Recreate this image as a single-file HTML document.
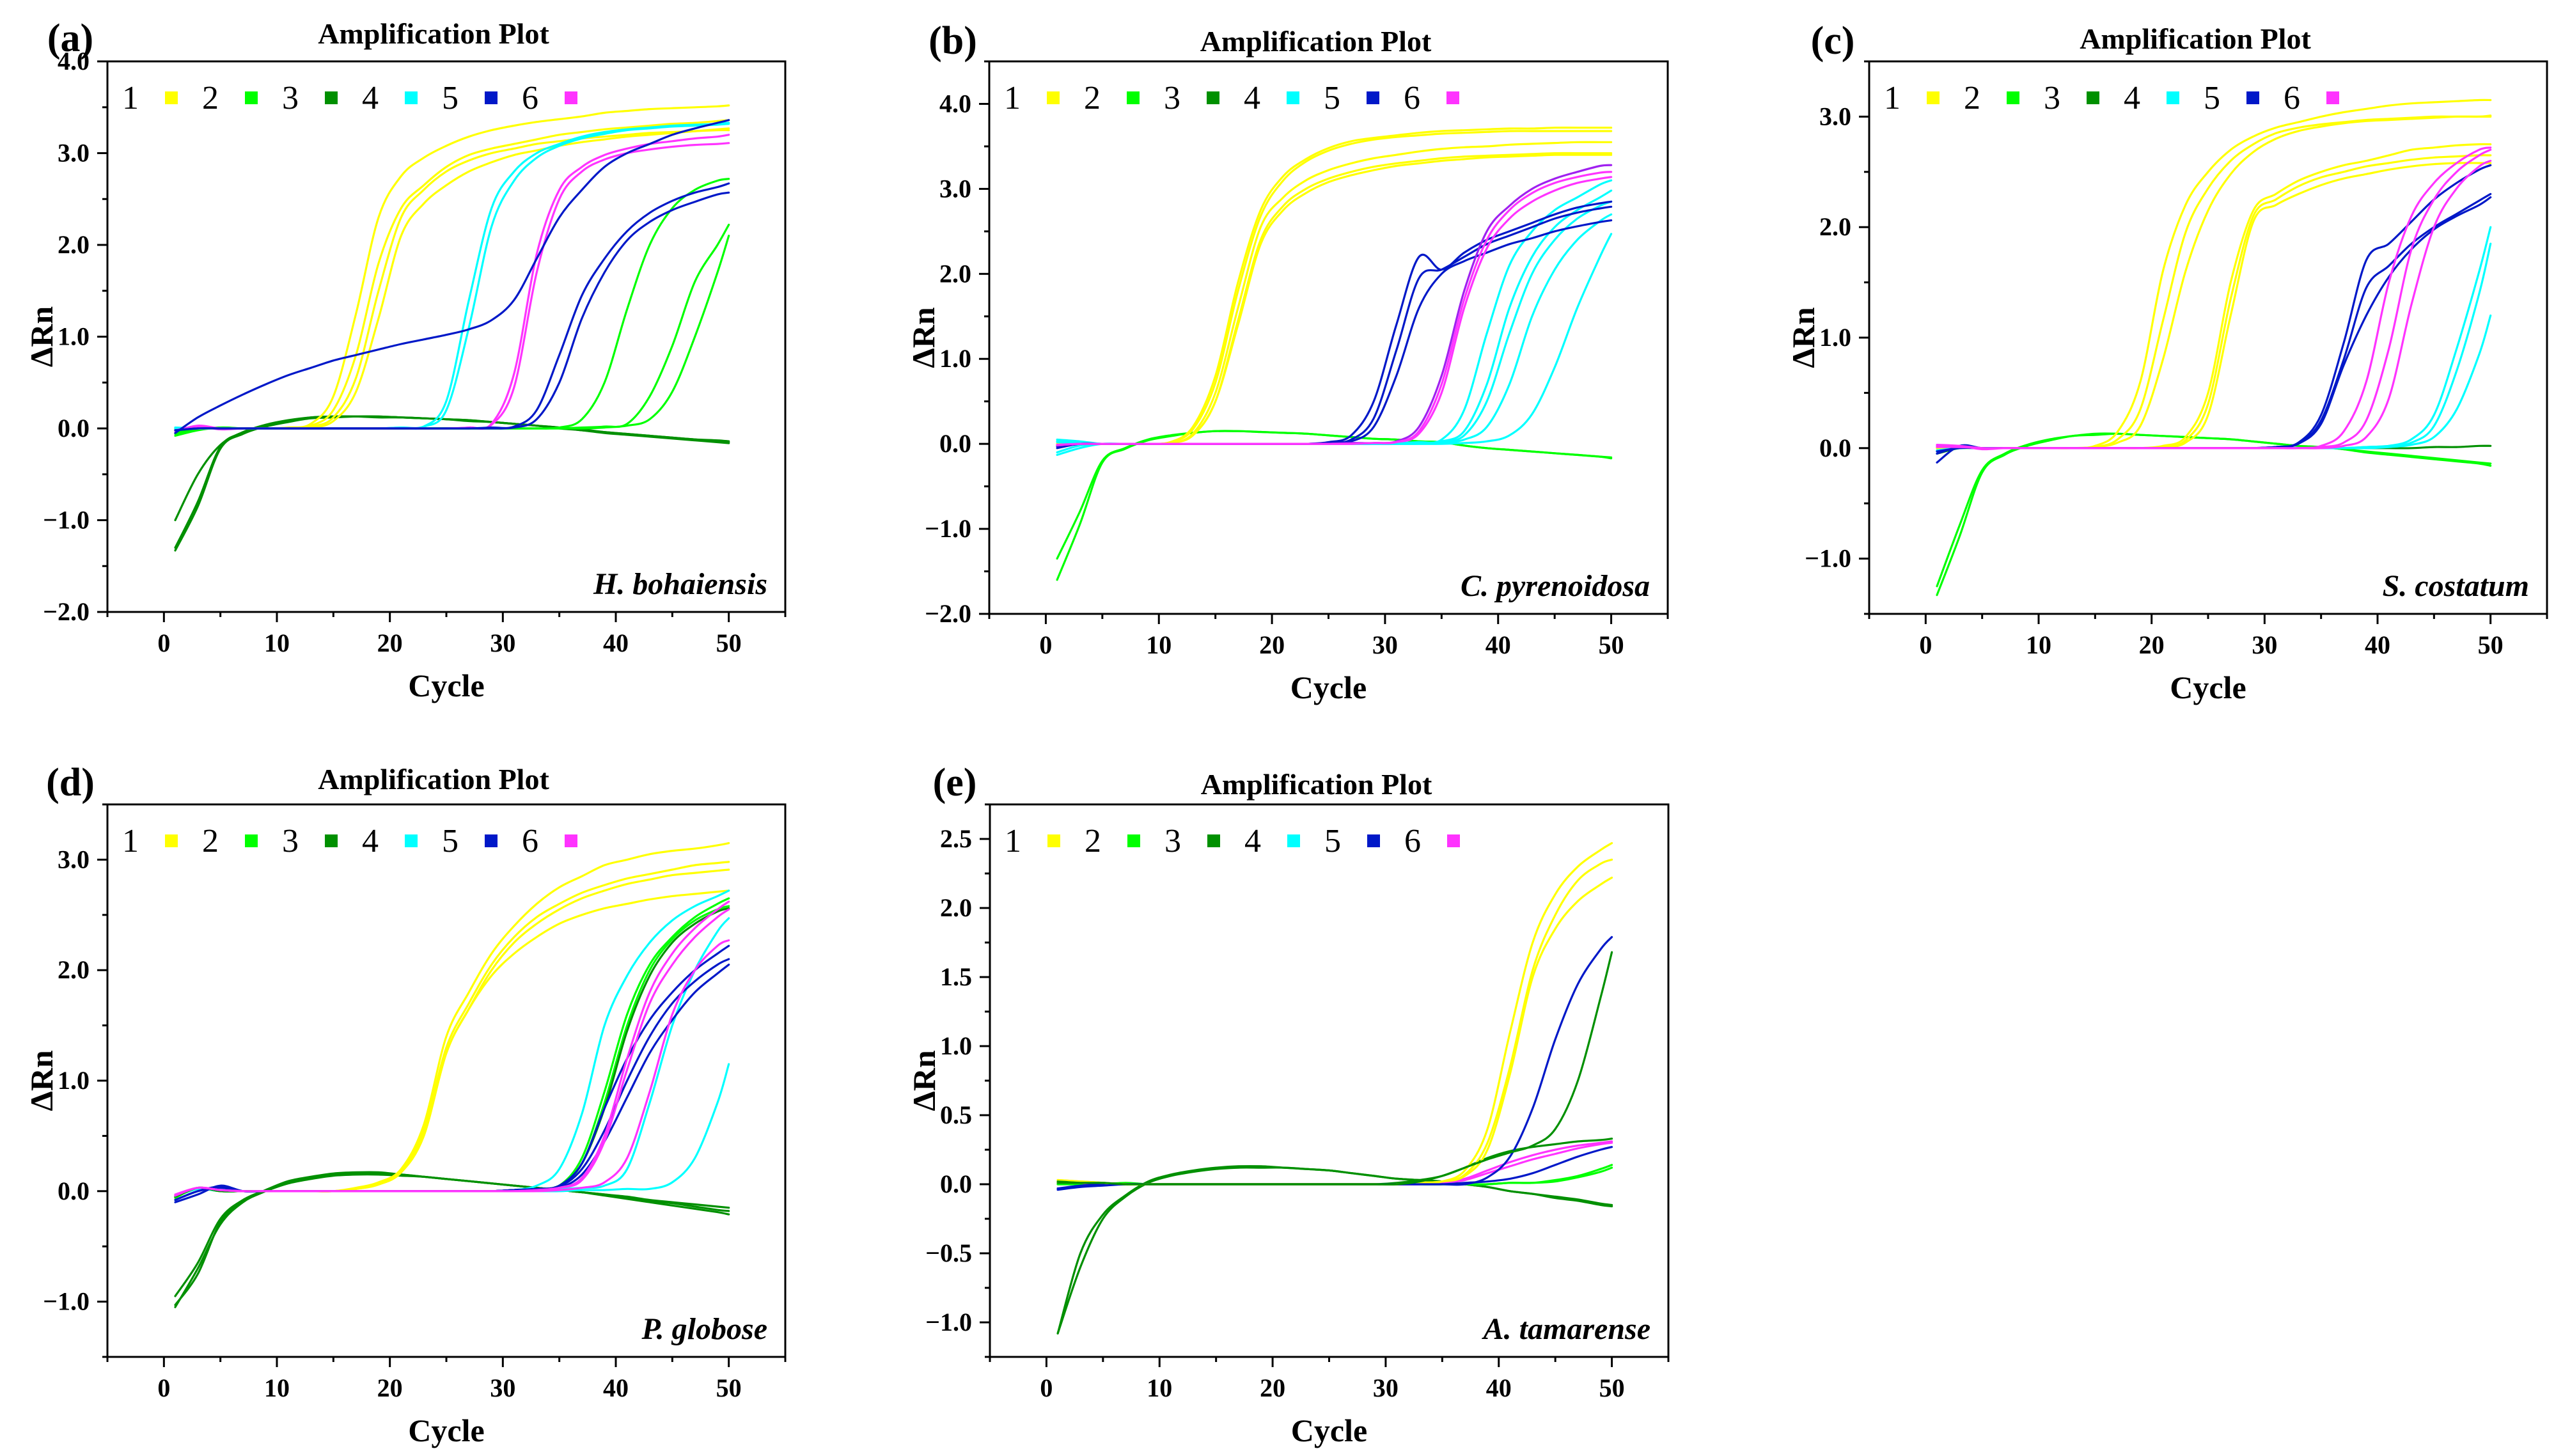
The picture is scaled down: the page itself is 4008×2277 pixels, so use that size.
<!DOCTYPE html>
<html><head><meta charset="utf-8">
<style>
html,body{margin:0;padding:0;background:#fff;}
svg{display:block;font-family:"Liberation Serif","Times New Roman",serif;}
svg text{font-family:"Liberation Serif","Times New Roman",serif;}
</style></head>
<body>
<svg id="fig" width="4008" height="2277" viewBox="0 0 4008 2277" xmlns="http://www.w3.org/2000/svg" font-family="Liberation Serif, serif"></svg>
<script>
const cycles=[1,3,5,7,9,11,13,15,17,19,21,23,25,27,29,31,33,35,37,39,41,43,45,47,49,50];
// Panel (a)
const aY1=[0,0,0,0,0,0.01,0.05,0.35,1.25,2.3,2.75,2.95,3.08,3.18,3.25,3.3,3.34,3.37,3.4,3.44,3.46,3.48,3.49,3.5,3.51,3.52];
const aY2=[0,0,0,0,0,0,0.03,0.2,0.8,1.8,2.4,2.65,2.85,2.98,3.05,3.1,3.15,3.2,3.23,3.26,3.28,3.3,3.32,3.33,3.35,3.36];
const aY3=[0,0,0,0,0,0,0.02,0.12,0.55,1.5,2.3,2.6,2.8,2.92,3.0,3.05,3.1,3.13,3.16,3.18,3.2,3.22,3.23,3.24,3.25,3.25];
const aY4=[0,0,0,0,0,0,0.01,0.08,0.4,1.2,2.1,2.45,2.65,2.8,2.9,2.98,3.03,3.08,3.12,3.15,3.18,3.2,3.22,3.24,3.26,3.27];
const aC1=[0.01,0,0,0,0,0,0,0,0,0,0.01,0.02,0.3,1.4,2.4,2.8,3.0,3.1,3.18,3.23,3.26,3.28,3.3,3.31,3.32,3.33];
const aC2=[0,0,0,0,0,0,0,0,0,0,0.01,0.02,0.2,1.1,2.2,2.7,2.95,3.08,3.16,3.21,3.25,3.27,3.29,3.3,3.31,3.32];
const aM1=[-0.03,0.03,0,0,0,0,0,0,0,0,0,0,0,0.01,0.05,0.6,1.9,2.6,2.85,2.98,3.05,3.1,3.13,3.16,3.18,3.2];
const aM2=[-0.02,0.02,-0.01,0,0,0,0,0,0,0,0,0,0,0.01,0.04,0.45,1.7,2.5,2.8,2.93,3.0,3.04,3.07,3.09,3.1,3.11];
const aB1=[-0.05,0.12,0.25,0.37,0.48,0.58,0.66,0.74,0.8,0.86,0.92,0.97,1.02,1.08,1.18,1.4,1.85,2.3,2.6,2.85,3.0,3.1,3.2,3.27,3.33,3.36];
const aB2=[-0.02,0,0,0,0,0,0,0,0,0,0,0,0,0,0.01,0.02,0.2,0.8,1.45,1.85,2.15,2.35,2.48,2.57,2.63,2.67];
const aB3=[-0.02,0,0,0,0,0,0,0,0,0,0,0,0,0,0,0.01,0.1,0.5,1.2,1.7,2.05,2.25,2.38,2.47,2.55,2.57];
const aG1=[-0.08,-0.02,0.01,0,0,0,0,0,0,0,0,0,0,0,0,0,0,0.01,0.1,0.5,1.3,2.0,2.4,2.6,2.7,2.72];
const aG2=[-0.06,-0.01,0.01,0,0,0,0,0,0,0,0,0,0,0,0,0,0,0,0.01,0.02,0.05,0.35,0.9,1.6,2.0,2.22];
const aG3=[-0.05,0,0,0,0,0,0,0,0,0,0,0,0,0,0,0,0,0,0,0.01,0.03,0.1,0.4,1.0,1.7,2.1];
const aD1=[-1.3,-0.8,-0.2,-0.05,0.03,0.08,0.12,0.13,0.13,0.13,0.12,0.11,0.1,0.09,0.07,0.05,0.03,0,-0.02,-0.05,-0.07,-0.09,-0.11,-0.13,-0.15,-0.16];
const aD2=[-1.0,-0.5,-0.18,-0.04,0.04,0.09,0.12,0.13,0.13,0.12,0.12,0.11,0.1,0.08,0.07,0.05,0.03,0.01,-0.02,-0.04,-0.06,-0.08,-0.1,-0.12,-0.13,-0.14];
const aD3=[-1.33,-0.85,-0.22,-0.06,0.02,0.07,0.11,0.12,0.13,0.13,0.12,0.11,0.1,0.09,0.07,0.05,0.03,0.01,-0.01,-0.04,-0.06,-0.08,-0.1,-0.12,-0.14,-0.15];
// Panel (b)
const bY1=[0,0,0,0,0,0.02,0.2,0.8,1.9,2.75,3.15,3.35,3.48,3.56,3.6,3.63,3.66,3.68,3.69,3.7,3.71,3.71,3.72,3.72,3.72,3.72];
const bY2=[0,0,0,0,0,0.02,0.17,0.72,1.8,2.68,3.1,3.32,3.45,3.53,3.58,3.61,3.63,3.65,3.66,3.67,3.68,3.68,3.68,3.68,3.68,3.68];
const bY3=[0,0,0,0,0,0.01,0.12,0.6,1.6,2.55,2.9,3.1,3.22,3.3,3.36,3.4,3.44,3.47,3.49,3.5,3.52,3.53,3.54,3.55,3.55,3.55];
const bY4=[0,0,0,0,0,0.01,0.1,0.5,1.45,2.4,2.8,3.0,3.12,3.2,3.26,3.3,3.33,3.36,3.38,3.39,3.4,3.41,3.42,3.42,3.42,3.42];
const bY5=[0,0,0,0,0,0.01,0.1,0.5,1.4,2.35,2.75,2.95,3.08,3.16,3.22,3.27,3.3,3.33,3.35,3.37,3.38,3.39,3.4,3.4,3.4,3.4];
const bN1=[-0.05,0,0,0,0,0,0,0,0,0,0,0,0.02,0.1,0.5,1.4,2.2,2.05,2.25,2.4,2.5,2.6,2.7,2.78,2.83,2.85];
const bN2=[-0.03,0,0,0,0,0,0,0,0,0,0,0,0.01,0.05,0.3,1.1,1.95,2.05,2.2,2.35,2.45,2.55,2.65,2.72,2.77,2.79];
const bN3=[-0.02,0,0,0,0,0,0,0,0,0,0,0,0.01,0.03,0.2,0.8,1.6,2.0,2.15,2.25,2.35,2.42,2.5,2.56,2.61,2.63];
const bP1=[-0.02,0,0,0,0,0,0,0,0,0,0,0,0,0.01,0.01,0.03,0.2,0.8,1.8,2.5,2.8,3.0,3.12,3.2,3.27,3.28];
const bM2=[-0.01,0,0,0,0,0,0,0,0,0,0,0,0,0,0.01,0.02,0.12,0.6,1.6,2.3,2.65,2.85,2.98,3.07,3.12,3.14];
const bM3=[-0.01,0,0,0,0,0,0,0,0,0,0,0,0,0,0.01,0.02,0.15,0.7,1.7,2.4,2.75,2.95,3.07,3.14,3.19,3.2];
const bC1=[0.05,0.03,0,0,0,0,0,0,0,0,0,0,0,0,0,0.01,0.02,0.05,0.4,1.3,2.1,2.5,2.75,2.9,3.05,3.1];
const bC2=[-0.1,-0.02,0,0,0,0,0,0,0,0,0,0,0,0,0,0,0.01,0.03,0.15,0.7,1.6,2.2,2.55,2.75,2.9,2.98];
const bC3=[-0.13,-0.05,0,0,0,0,0,0,0,0,0,0,0,0,0,0,0.01,0.02,0.1,0.5,1.3,2.0,2.4,2.65,2.8,2.85];
const bC4=[0.03,0.02,0,0,0,0,0,0,0,0,0,0,0,0,0,0,0,0.01,0.05,0.2,0.7,1.5,2.05,2.4,2.62,2.7];
const bC5=[0.02,0.01,0,0,0,0,0,0,0,0,0,0,0,0,0,0,0,0,0.01,0.03,0.1,0.35,0.9,1.6,2.2,2.47];
const bG1=[-1.35,-0.8,-0.2,-0.05,0.05,0.1,0.13,0.15,0.15,0.14,0.13,0.12,0.1,0.08,0.06,0.05,0.03,0.02,-0.02,-0.05,-0.07,-0.09,-0.11,-0.13,-0.15,-0.16];
const bG2=[-1.6,-0.95,-0.22,-0.06,0.04,0.09,0.13,0.15,0.15,0.14,0.13,0.12,0.1,0.08,0.06,0.05,0.03,0.02,-0.02,-0.05,-0.07,-0.09,-0.11,-0.13,-0.15,-0.17];
// Panel (c)
const cY1=[0,0,0,0,0,0,0,0.02,0.15,0.6,1.6,2.2,2.5,2.7,2.82,2.9,2.95,3.0,3.04,3.07,3.1,3.12,3.13,3.14,3.15,3.15];
const cY2=[0,0,0,0,0,0,0,0.01,0.08,0.35,1.15,1.95,2.35,2.6,2.75,2.85,2.9,2.93,2.95,2.97,2.98,2.99,3.0,3.0,3.0,3.0];
const cY3=[0,0,0,0,0,0,0,0.01,0.05,0.2,0.8,1.6,2.15,2.48,2.68,2.8,2.87,2.91,2.94,2.96,2.97,2.98,2.99,3.0,3.0,3.01];
const cY4=[0,0,0,0,0,0,0,0,0,0,0.02,0.1,0.5,1.5,2.15,2.3,2.42,2.5,2.56,2.6,2.65,2.7,2.72,2.74,2.75,2.75];
const cY5=[0,0,0,0,0,0,0,0,0,0,0.01,0.07,0.4,1.35,2.1,2.25,2.37,2.45,2.5,2.55,2.58,2.61,2.63,2.64,2.65,2.65];
const cY6=[0,0,0,0,0,0,0,0,0,0,0.01,0.05,0.3,1.2,2.05,2.2,2.3,2.38,2.44,2.48,2.52,2.55,2.57,2.58,2.58,2.58];
const cB1=[-0.13,0.02,0,0,0,0,0,0,0,0,0,0,0,0,0,0.01,0.05,0.3,0.95,1.7,1.85,2.05,2.25,2.4,2.52,2.56];
const cB2=[-0.05,0.01,0,0,0,0,0,0,0,0,0,0,0,0,0,0.01,0.04,0.25,0.8,1.45,1.65,1.85,2.0,2.12,2.24,2.3];
const cB3=[-0.03,0,0,0,0,0,0,0,0,0,0,0,0,0,0,0.01,0.04,0.22,0.75,1.2,1.55,1.8,1.98,2.1,2.2,2.27];
const cM1=[0.03,0.02,-0.01,0,0,0,0,0,0,0,0,0,0,0,0,0,0,0.02,0.15,0.6,1.5,2.1,2.4,2.58,2.7,2.72];
const cM2=[0.02,0.02,0,0,0,0,0,0,0,0,0,0,0,0,0,0,0,0.01,0.05,0.25,0.9,1.8,2.25,2.5,2.65,2.7];
const cM3=[0.01,0.01,0,0,0,0,0,0,0,0,0,0,0,0,0,0,0,0,0.02,0.1,0.45,1.3,2.0,2.35,2.55,2.6];
const cC1=[-0.02,0,0,0,0,0,0,0,0,0,0,0,0,0,0,0,0,0,0,0.01,0.02,0.08,0.3,0.9,1.6,2.0];
const cC2=[-0.02,0,0,0,0,0,0,0,0,0,0,0,0,0,0,0,0,0,0,0.01,0.02,0.05,0.2,0.7,1.4,1.85];
const cC3=[-0.03,0,0,0,0,0,0,0,0,0,0,0,0,0,0,0,0,0,0,0,0.01,0.03,0.1,0.35,0.85,1.2];
const cG1=[-1.25,-0.7,-0.2,-0.05,0.03,0.08,0.11,0.13,0.13,0.12,0.11,0.1,0.09,0.08,0.06,0.04,0.02,0.01,-0.01,-0.03,-0.05,-0.07,-0.09,-0.11,-0.13,-0.14];
const cG2=[-1.33,-0.8,-0.22,-0.06,0.02,0.07,0.11,0.12,0.13,0.12,0.11,0.1,0.09,0.08,0.06,0.04,0.02,0.01,-0.01,-0.04,-0.06,-0.08,-0.1,-0.12,-0.14,-0.16];
const cD1=[-0.05,0,0,0,0,0,0,0,0,0,0,0,0,0,0,0,0,0,0,0,0,0,0.01,0.01,0.02,0.02];
// Panel (d)
const dY1=[-0.05,0.02,0,0,0,0,0,0,0.03,0.08,0.2,0.6,1.4,1.8,2.15,2.4,2.6,2.75,2.85,2.95,3.0,3.05,3.08,3.1,3.13,3.15];
const dY2=[-0.05,0.02,0,0,0,0,0,0,0.02,0.07,0.18,0.55,1.3,1.7,2.05,2.3,2.48,2.6,2.7,2.77,2.83,2.87,2.91,2.95,2.97,2.98];
const dY3=[-0.04,0.02,0,0,0,0,0,0,0.02,0.06,0.17,0.5,1.25,1.65,2.0,2.25,2.42,2.55,2.65,2.72,2.78,2.82,2.86,2.88,2.9,2.91];
const dY4=[-0.04,0.02,0,0,0,0,0,0,0.02,0.06,0.17,0.5,1.25,1.65,1.95,2.15,2.3,2.42,2.5,2.56,2.6,2.64,2.67,2.69,2.71,2.72];
const dC1=[-0.05,0.02,0,0,0,0,0,0,0,0,0,0,0,0,0,0.01,0.05,0.2,0.7,1.5,1.95,2.25,2.45,2.58,2.67,2.72];
const dC2=[-0.05,0.02,0,0,0,0,0,0,0,0,0,0,0,0,0,0,0.01,0.02,0.03,0.05,0.2,0.8,1.5,2.0,2.35,2.47];
const dC3=[-0.05,0.02,0,0,0,0,0,0,0,0,0,0,0,0,0,0,0,0,0.01,0.01,0.02,0.02,0.08,0.3,0.8,1.15];
const dG1=[-0.06,0.03,0,0,0,0,0,0,0,0,0,0,0,0,0,0.01,0.02,0.05,0.3,0.9,1.6,2.05,2.3,2.48,2.6,2.65];
const dG2=[-0.06,0.03,0,0,0,0,0,0,0,0,0,0,0,0,0,0.01,0.02,0.05,0.25,0.8,1.5,2.0,2.28,2.45,2.55,2.58];
const dDr=[-0.05,0.03,0,0,0,0,0,0,0,0,0,0,0,0,0,0.01,0.02,0.05,0.25,0.75,1.45,1.95,2.25,2.42,2.53,2.56];
const dN1=[-0.1,-0.03,0.05,0,0,0,0,0,0,0,0,0,0,0,0,0.01,0.02,0.05,0.25,0.75,1.2,1.55,1.8,2.0,2.15,2.22];
const dN2=[-0.08,0,0.04,0,0,0,0,0,0,0,0,0,0,0,0,0.01,0.02,0.04,0.2,0.55,1.0,1.4,1.7,1.9,2.05,2.1];
const dN3=[-0.08,0,0.03,0,0,0,0,0,0,0,0,0,0,0,0,0.01,0.02,0.03,0.15,0.45,0.85,1.25,1.55,1.8,1.97,2.05];
const dM1=[-0.04,0.03,0.01,0,0,0,0,0,0,0,0,0,0,0,0,0,0.01,0.03,0.12,0.5,1.2,1.8,2.15,2.38,2.55,2.62];
const dM2=[-0.04,0.03,0.01,0,0,0,0,0,0,0,0,0,0,0,0,0,0,0.01,0.03,0.08,0.3,0.9,1.6,2.0,2.22,2.27];
const dM3=[-0.03,0.03,0.01,0,0,0,0,0,0,0,0,0,0,0,0,0,0.01,0.03,0.1,0.45,1.1,1.7,2.05,2.3,2.48,2.55];
const dD1=[-1.05,-0.7,-0.3,-0.1,0,0.08,0.12,0.15,0.16,0.16,0.15,0.13,0.11,0.09,0.07,0.05,0.03,0.01,-0.01,-0.03,-0.06,-0.09,-0.11,-0.14,-0.17,-0.18];
const dD2=[-0.95,-0.65,-0.25,-0.08,0.01,0.09,0.13,0.16,0.17,0.17,0.15,0.13,0.11,0.09,0.07,0.05,0.03,0.01,-0.01,-0.03,-0.05,-0.08,-0.1,-0.12,-0.14,-0.15];
const dD3=[-1.03,-0.75,-0.28,-0.09,0,0.07,0.11,0.14,0.15,0.15,0.14,0.13,0.11,0.09,0.07,0.05,0.03,0.01,-0.01,-0.04,-0.07,-0.1,-0.13,-0.16,-0.19,-0.21];
// Panel (e)
const eY1=[0.03,0.02,0.01,0,0,0,0,0,0,0,0,0,0,0,0,0,0.01,0.02,0.1,0.4,1.1,1.75,2.1,2.3,2.42,2.47];
const eY2=[0.03,0.02,0.01,0,0,0,0,0,0,0,0,0,0,0,0,0,0.01,0.02,0.07,0.3,0.85,1.55,1.95,2.2,2.32,2.35];
const eY3=[0.02,0.02,0.01,0,0,0,0,0,0,0,0,0,0,0,0,0,0.01,0.02,0.06,0.25,0.8,1.5,1.85,2.05,2.17,2.22];
const eN1=[-0.04,-0.02,-0.01,0,0,0,0,0,0,0,0,0,0,0,0,0,0,0,0,0.05,0.2,0.55,1.05,1.45,1.7,1.79];
const eN2=[-0.03,-0.01,0,0,0,0,0,0,0,0,0,0,0,0,0,0,0,0,0.01,0.02,0.04,0.08,0.14,0.2,0.25,0.27];
const eDr1=[0.02,0.01,0.01,0,0,0,0,0,0,0,0,0,0,0,0,0,0.02,0.06,0.12,0.18,0.23,0.28,0.4,0.75,1.35,1.68];
const eDr2=[0.01,0.01,0.01,0,0,0,0,0,0,0,0,0,0,0,0,0.01,0.03,0.06,0.12,0.19,0.24,0.27,0.29,0.31,0.32,0.33];
const eD1=[-1.08,-0.5,-0.22,-0.08,0.02,0.07,0.1,0.12,0.13,0.13,0.12,0.11,0.1,0.08,0.06,0.04,0.03,0.02,0,-0.02,-0.05,-0.07,-0.09,-0.11,-0.14,-0.15];
const eD2=[-1.08,-0.6,-0.25,-0.09,0.01,0.06,0.09,0.11,0.12,0.12,0.12,0.11,0.1,0.08,0.06,0.04,0.03,0.02,0,-0.02,-0.05,-0.07,-0.1,-0.12,-0.15,-0.16];
const eM1=[0.02,0.01,0,0,0,0,0,0,0,0,0,0,0,0,0,0,0,0.01,0.04,0.1,0.16,0.21,0.25,0.28,0.3,0.31];
const eM2=[0.02,0.01,0,0,0,0,0,0,0,0,0,0,0,0,0,0,0,0.01,0.03,0.08,0.13,0.18,0.22,0.26,0.29,0.3];
const eG1=[0,0,0,0.01,0,0,0,0,0,0,0,0,0,0,0,0,0,0,0,0,0.01,0.01,0.03,0.06,0.11,0.14];
const eG2=[0,0,0,0,0,0,0,0,0,0,0,0,0,0,0,0,0,0,0,0,0.01,0.01,0.02,0.05,0.09,0.12];

const legendLabels=["1","2","3","4","5","6"];
const xTickLabels=[0,10,20,30,40,50];

const COL={Y:"#ffff00",G:"#00ff00",D:"#009000",C:"#00ffff",N:"#0018c8",M:"#ff33ff",P:"#a020f0"};
const legendColors=[COL.Y,COL.G,COL.D,COL.C,COL.N,COL.M];
const FONT="'Liberation Serif', 'Times New Roman', serif";

const panels=[
 {id:"a",tag:"(a)",species:"H. bohaiensis",l:168,r:1228,t:96,b:957,ymin:-2,ymax:4,major:[-2,-1,0,1,2,3,4],minor:0.5,tagXY:[110,60],titleY:52,
  series:[[aD1,"D"],[aD2,"D"],[aD3,"D"],[aG1,"G"],[aG2,"G"],[aG3,"G"],[aY1,"Y"],[aY2,"Y"],[aY3,"Y"],[aY4,"Y"],[aC1,"C"],[aC2,"C"],[aM1,"M"],[aM2,"M"],[aB1,"N"],[aB2,"N"],[aB3,"N"]]},
 {id:"b",tag:"(b)",species:"C. pyrenoidosa",l:1547,r:2608,t:96,b:960,ymin:-2,ymax:4.5,major:[-2,-1,0,1,2,3,4],minor:0.5,tagXY:[1490,64],titleY:64,
  series:[[bG1,"G"],[bG2,"G"],[bY1,"Y"],[bY2,"Y"],[bY3,"Y"],[bY4,"Y"],[bY5,"Y"],[bC1,"C"],[bC2,"C"],[bC3,"C"],[bC4,"C"],[bC5,"C"],[bN1,"N"],[bN2,"N"],[bN3,"N"],[bP1,"P"],[bM2,"M"],[bM3,"M"]]},
 {id:"c",tag:"(c)",species:"S. costatum",l:2923,r:3983,t:96,b:960,ymin:-1.5,ymax:3.5,major:[-1,0,1,2,3],minor:0.5,tagXY:[2866,64],titleY:60,
  series:[[cD1,"D"],[cG1,"G"],[cG2,"G"],[cY1,"Y"],[cY2,"Y"],[cY3,"Y"],[cY4,"Y"],[cY5,"Y"],[cY6,"Y"],[cC1,"C"],[cC2,"C"],[cC3,"C"],[cB1,"N"],[cB2,"N"],[cB3,"N"],[cM1,"M"],[cM2,"M"],[cM3,"M"]]},
 {id:"d",tag:"(d)",species:"P. globose",l:168,r:1228,t:1258,b:2122,ymin:-1.5,ymax:3.5,major:[-1,0,1,2,3],minor:0.5,tagXY:[110,1224],titleY:1218,
  series:[[dD1,"D"],[dD2,"D"],[dD3,"D"],[dY1,"Y"],[dY2,"Y"],[dY3,"Y"],[dY4,"Y"],[dC1,"C"],[dC2,"C"],[dC3,"C"],[dG1,"G"],[dG2,"G"],[dDr,"D"],[dN1,"N"],[dN2,"N"],[dN3,"N"],[dM1,"M"],[dM2,"M"],[dM3,"M"]]},
 {id:"e",tag:"(e)",species:"A. tamarense",l:1548,r:2609,t:1258,b:2122,ymin:-1.25,ymax:2.75,major:[-1,-0.5,0,0.5,1,1.5,2,2.5],minor:0.25,tagXY:[1493,1224],titleY:1226,
  series:[[eD1,"D"],[eD2,"D"],[eG1,"G"],[eG2,"G"],[eM1,"M"],[eM2,"M"],[eN2,"N"],[eDr2,"D"],[eY1,"Y"],[eY2,"Y"],[eY3,"Y"],[eN1,"N"],[eDr1,"D"]]}
];

const NS="http://www.w3.org/2000/svg";
const svg=document.getElementById("fig");
function mk(tag,attrs,parent){const e=document.createElementNS(NS,tag);for(const k in attrs)e.setAttribute(k,attrs[k]);if(tag==="text")e.setAttribute("font-family",FONT);(parent||svg).appendChild(e);return e;}
function fmt(v){const s=Math.abs(v).toFixed(1);return (v<0?"\u2212":"")+s;}
function smoothPath(pts){
  let d="M"+pts[0][0].toFixed(1)+","+pts[0][1].toFixed(1);
  for(let i=0;i<pts.length-1;i++){
    const p0=pts[i-1]||pts[i],p1=pts[i],p2=pts[i+1],p3=pts[i+2]||p2;
    const c1=[p1[0]+(p2[0]-p0[0])/6,p1[1]+(p2[1]-p0[1])/6];
    const c2=[p2[0]-(p3[0]-p1[0])/6,p2[1]-(p3[1]-p1[1])/6];
    d+="C"+c1[0].toFixed(1)+","+c1[1].toFixed(1)+" "+c2[0].toFixed(1)+","+c2[1].toFixed(1)+" "+p2[0].toFixed(1)+","+p2[1].toFixed(1);
  }
  return d;
}

panels.forEach(p=>{
  const g=mk("g",{});
  
  
  const xS=v=>p.l+(v+5)/60*(p.r-p.l);
  const yS=v=>p.b-(v-p.ymin)/(p.ymax-p.ymin)*(p.b-p.t);
  const cx=(p.l+p.r)/2, cy=(p.t+p.b)/2;

  const tag=mk("text",{x:p.tagXY[0],y:p.tagXY[1]+20,"text-anchor":"middle","font-size":62,"font-weight":"bold"},g);
  tag.textContent=p.tag;
  
  
  const title=mk("text",{x:cx-20,y:p.titleY+16,"text-anchor":"middle","font-size":46,"font-weight":"bold"},g);
  title.textContent="Amplification Plot";
  
  

  const sg=mk("g",{fill:"none","stroke-width":3.2,"stroke-linejoin":"round","stroke-linecap":"round"},g);
  
  
  p.series.forEach((s,i)=>{
    const pts=cycles.map((c,k)=>[xS(c),yS(s[0][k])]);
    const path=mk("path",{d:smoothPath(pts),stroke:COL[s[1]]},sg);
    
    
  });

  const fr=mk("rect",{x:p.l,y:p.t,width:p.r-p.l,height:p.b-p.t,fill:"none",stroke:"#000","stroke-width":3},g);
  
  

  const ya=mk("g",{},g);
  
  
  for(let v=p.ymin;v<=p.ymax+1e-9;v+=p.minor){
    const y=yS(v);
    const isMaj=p.major.some(m=>Math.abs(m-v)<1e-6);
    mk("line",{x1:p.l-(isMaj?16:8),x2:p.l,y1:y,y2:y,stroke:"#000","stroke-width":3},ya);
  }
  p.major.forEach(v=>{
    const t=mk("text",{x:p.l-28,y:yS(v)+13,"text-anchor":"end","font-size":40,"font-weight":"bold"},ya);
    t.textContent=fmt(v);
    
    
  });
  const xa=mk("g",{},g);
  
  
  for(let v=-5;v<=55;v+=5){
    const x=xS(v);
    mk("line",{x1:x,x2:x,y1:p.b,y2:p.b+(v%10===0?16:8),stroke:"#000","stroke-width":3},xa);
  }
  xTickLabels.forEach(v=>{
    const t=mk("text",{x:xS(v),y:p.b+62,"text-anchor":"middle","font-size":40,"font-weight":"bold"},xa);
    t.textContent=String(v);
    
    
  });
  const xt=mk("text",{x:cx,y:p.b+132,"text-anchor":"middle","font-size":50,"font-weight":"bold"},g);
  xt.textContent="Cycle";
  
  
  const yt=mk("text",{x:0,y:0,"text-anchor":"middle","font-size":50,"font-weight":"bold",transform:"translate("+(p.l-86)+","+cy+") rotate(-90)"},g);
  yt.textContent="\u0394Rn";
  
  

  const lg=mk("g",{},g);
  
  
  legendLabels.forEach((lab,i)=>{
    const lx=p.l+36+i*125, ly=p.t+57;
    const t=mk("text",{x:lx,y:ly+17,"text-anchor":"middle","font-size":52},lg);
    t.textContent=lab;
    
    
    const r=mk("rect",{x:lx+54,y:ly-10,width:20,height:20,fill:legendColors[i]},lg);
    
    
  });
  const sp=mk("text",{x:p.r-28,y:p.b-28,"text-anchor":"end","font-size":48,"font-weight":"bold","font-style":"italic"},g);
  sp.textContent=p.species;
  
  
});
</script>
</body></html>
